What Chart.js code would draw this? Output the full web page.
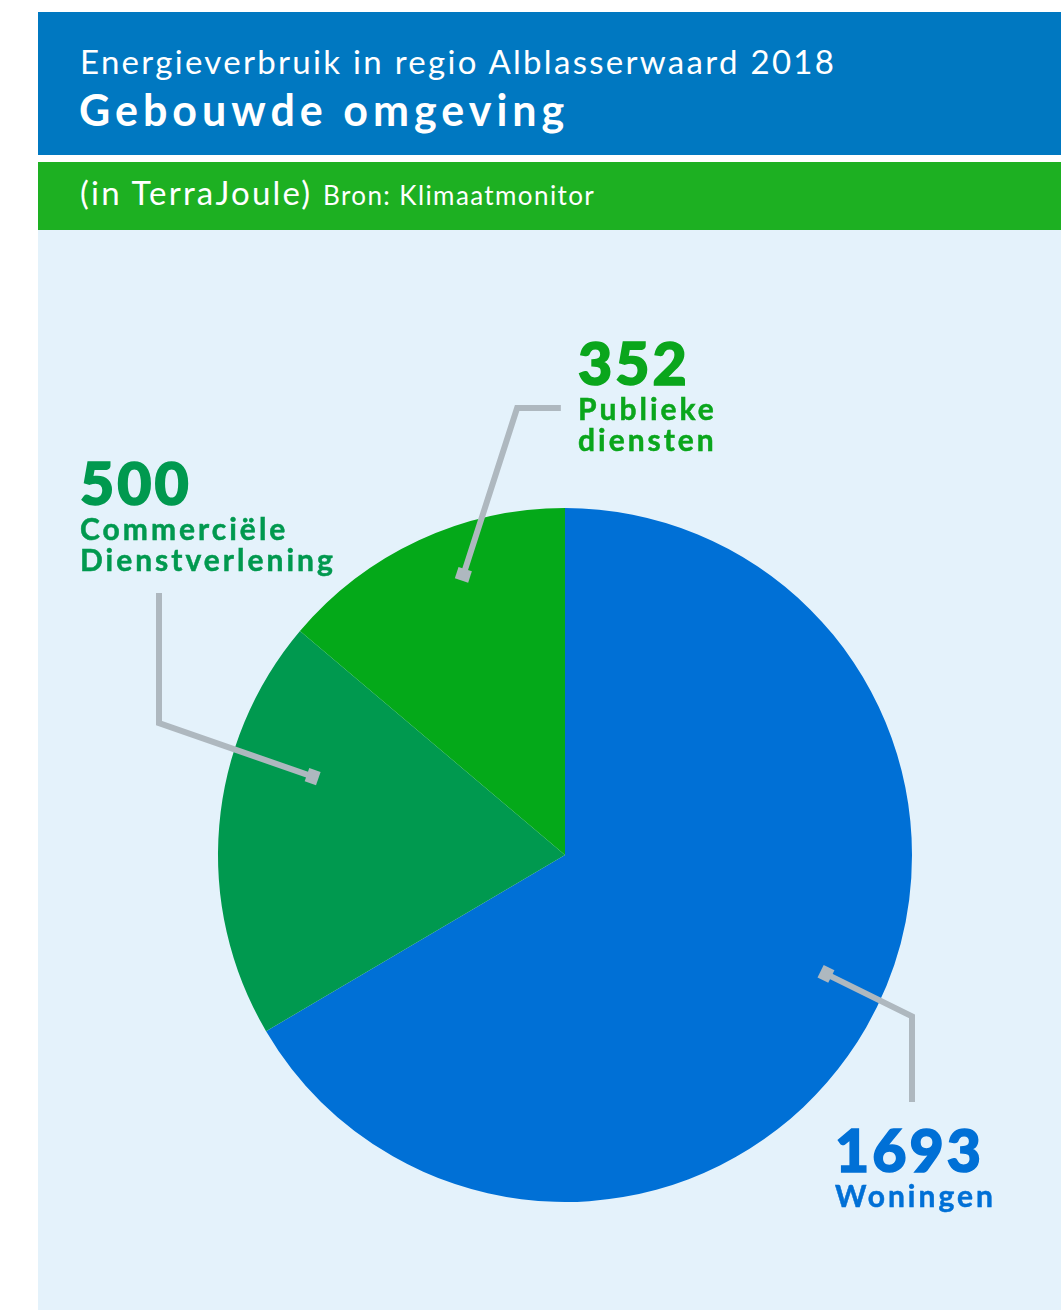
<!DOCTYPE html>
<html>
<head>
<meta charset="utf-8">
<script src="https://cdnjs.cloudflare.com/ajax/libs/Chart.js/4.4.1/chart.umd.min.js"></script>
<style>
  html,body{margin:0;padding:0;background:#fff;}
  body{width:1061px;height:1310px;position:relative;overflow:hidden;font-family:Lato,"Open Sans",sans-serif;}
  .head{position:absolute;left:38px;top:12px;width:1023px;height:143px;background:#0078c1;color:#fff;}
  .sub{position:absolute;left:38px;top:162px;width:1023px;height:68px;background:#1db022;color:#fff;}
  .plot{position:absolute;left:38px;top:230px;width:1023px;height:1080px;background:#e4f2fb;}
  .t1{position:absolute;left:42px;top:29px;font-size:33px;font-weight:400;line-height:40px;letter-spacing:2.3px;white-space:nowrap;}
  .t2{position:absolute;left:41px;top:73px;font-size:43px;font-weight:700;line-height:50px;letter-spacing:5px;white-space:nowrap;}
  .s1{position:absolute;left:42px;top:10px;font-size:33px;font-weight:400;line-height:40px;letter-spacing:2.2px;white-space:nowrap;}
  .s1 small{font-size:26px;letter-spacing:1.4px;}
  .lab{position:absolute;white-space:nowrap;}
  .lab .n{font-size:59px;font-weight:900;line-height:60px;letter-spacing:3px;-webkit-text-stroke:1.6px currentColor;}
  .lab .c{font-size:30px;font-weight:700;line-height:31px;letter-spacing:3px;-webkit-text-stroke:0.5px currentColor;}
  canvas{position:absolute;left:0;top:0;}
</style>
</head>
<body>
<div class="head">
  <div class="t1">Energieverbruik in regio Alblasserwaard 2018</div>
  <div class="t2">Gebouwde omgeving</div>
</div>
<div class="sub"><div class="s1">(in TerraJoule) <small>Bron: Klimaatmonitor</small></div></div>
<div class="plot"><canvas id="chart" width="1023" height="1080"></canvas></div>
<div id="labels"></div>
<script>
// Energieverbruik gebouwde omgeving, TJ (clockwise from 12 o'clock)
const CATEGORIES = ['Woningen', 'Commerciële Dienstverlening', 'Publieke diensten'];
const LABEL_LINES = [['Woningen'], ['Commerciële', 'Dienstverlening'], ['Publieke', 'diensten']];
const VALUES = [1693, 500, 352];
const COLORS = ['#0070d6', '#00994f', '#04a919'];
const TEXT_COLORS = ['#0070d6', '#00994f', '#0aa61c'];

// leader geometry, in radius units relative to the pie centre
// anchor: [fraction along slice, fraction of radius]; path: elbow points after the anchor
const LEADERS = [
  {anchor:[0.478, 0.815], path:[[1.0, 0.465], [1.0, 0.712]], label:[0.778, 0.764]},
  {anchor:[0.675, 0.75],  path:[[-1.17, -0.38], [-1.17, -0.755]], label:[-1.398, -1.158]},
  {anchor:[0.59, 0.85],   path:[[-0.138, -1.288], [-0.012, -1.288]], label:[0.037, -1.503]},
];
const LINE_GREY = '#aeb8bf';

const leaderPlugin = {
  id:'leaders',
  afterDatasetsDraw(chart){
    const ctx = chart.ctx;
    chart.getDatasetMeta(0).data.forEach((arc, i) => {
      const L = LEADERS[i];
      const {x, y, startAngle, endAngle, outerRadius:r} = arc.getProps(['x','y','startAngle','endAngle','outerRadius'], true);
      const a = startAngle + (endAngle - startAngle) * L.anchor[0];
      const ax = x + Math.cos(a) * r * L.anchor[1], ay = y + Math.sin(a) * r * L.anchor[1];
      const pts = [[ax, ay], ...L.path.map(p => [x + p[0] * r, y + p[1] * r])];
      ctx.save();
      ctx.strokeStyle = LINE_GREY; ctx.lineWidth = 6; ctx.lineJoin = 'miter'; ctx.lineCap = 'butt';
      ctx.beginPath();
      pts.forEach((p, k) => k ? ctx.lineTo(p[0], p[1]) : ctx.moveTo(p[0], p[1]));
      ctx.stroke();
      // square cap at the anchor
      const ang = Math.atan2(pts[1][1] - ay, pts[1][0] - ax);
      ctx.translate(ax, ay); ctx.rotate(ang);
      ctx.fillStyle = LINE_GREY;
      ctx.fillRect(-2, -7, 12, 14);
      ctx.restore();
    });
  }
};

function placeLabels(chart){
  const arc = chart.getDatasetMeta(0).data[0];
  const r = arc.outerRadius, cx = 38 + arc.x, cy = 230 + arc.y;
  const host = document.getElementById('labels');
  host.innerHTML = '';
  CATEGORIES.forEach((c, i) => {
    const d = document.createElement('div');
    d.className = 'lab';
    d.style.color = TEXT_COLORS[i];
    d.style.left = Math.round(cx + LEADERS[i].label[0] * r) + 'px';
    d.style.top = Math.round(cy + LEADERS[i].label[1] * r) + 'px';
    d.innerHTML = `<div class="n">${VALUES[i]}</div>` + LABEL_LINES[i].map(s => `<div class="c">${s}</div>`).join('');
    host.appendChild(d);
  });
}

const chart = new Chart(document.getElementById('chart'), {
  type:'pie',
  data:{labels:CATEGORIES, datasets:[{data:VALUES, backgroundColor:COLORS, borderWidth:0, hoverOffset:0}]},
  options:{
    responsive:false, animation:false, events:[],
    layout:{padding:{left:180, right:149, top:278, bottom:108}},
    plugins:{legend:{display:false}, tooltip:{enabled:false}},
  },
  plugins:[leaderPlugin],
});
placeLabels(chart);
</script>
</body>
</html>
